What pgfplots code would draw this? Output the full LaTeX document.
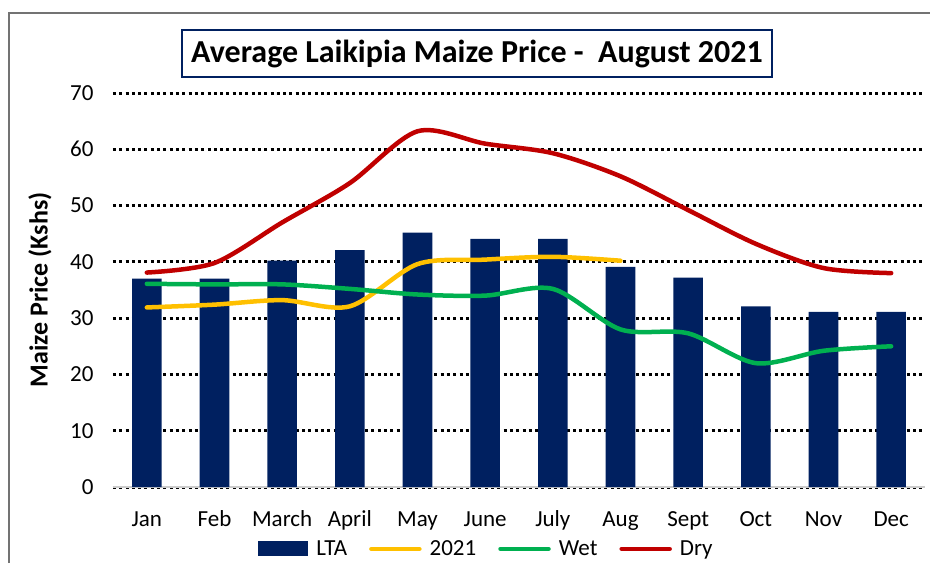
\documentclass[border=0pt]{standalone}
\usepackage{pgfplots}
\pgfplotsset{compat=1.18}
\usepackage{fontspec}
\setmainfont{Carlito}
\definecolor{navy}{HTML}{002060}
\definecolor{gold}{HTML}{FFC000}
\definecolor{wetgreen}{HTML}{00B050}
\definecolor{dryred}{HTML}{C00000}
\begin{document}
\begin{tikzpicture}
\useasboundingbox (0,0) rectangle (930pt,563pt);
\draw[black!55, line width=1.2pt] (9pt,0pt) -- (9pt,550pt) -- (930pt,550pt);
\node[draw=navy, line width=1.5pt, minimum width=590pt, minimum height=47pt, inner sep=0pt,
      font=\fontsize{32}{36}\selectfont\bfseries] at (477pt,509.5pt)
      {Average Laikipia Maize Price -\ \ August 2021};
\begin{axis}[
  scale only axis,
  width=812pt, height=394pt,
  at={(113pt,76pt)}, anchor=south west,
  xmin=-0.5, xmax=11.5, ymin=0, ymax=70,
  xtick={0,...,11},
  xticklabels={Jan,Feb,March,April,May,June,July,Aug,Sept,Oct,Nov,Dec},
  ytick={0,10,...,70},
  ymajorgrids,
  major grid style={black, line width=3pt, dash pattern=on 3pt off 3.3pt},
  major tick length=0pt,
  separate axis lines,
  axis x line*=bottom, axis y line*=left,
  x axis line style={black!20, line width=1.5pt, -},
  y axis line style={draw=none, -},
  /pgf/number format/assume math mode=true,
  tick label style={font=\fontsize{23}{27}\selectfont},
  yticklabel style={anchor=east, xshift=-16pt},
  xticklabel style={anchor=base, yshift=-39pt},
  ylabel={\bfseries Maize Price (Kshs)},
  ylabel style={at={(axis description cs:-0.09,0.5)}, anchor=center, font=\fontsize{26}{30}\selectfont},
  legend style={at={(axis description cs:0.46,-0.157)}, anchor=center, draw=none, fill=none,
    legend columns=4, font=\fontsize{23}{27}\selectfont,
    /tikz/every odd column/.append style={column sep=6pt},
    /tikz/every even column/.append style={column sep=20pt}},
  legend cell align=left,
]
\addplot[ybar, bar width=29.6pt, fill=navy, draw=none,
  legend image code/.code={\fill[navy] (0pt,-7pt) rectangle (50pt,8pt);}]
  coordinates {(0,37) (1,37) (2,40.2) (3,42.1) (4,45.2) (5,44.1) (6,44.1) (7,39.1) (8,37.2) (9,32.1) (10,31.1) (11,31.1)};
\addlegendentry{LTA}
\addplot[gold, line width=4.5pt, line cap=round, smooth, tension=0.5,
  legend image code/.code={\draw[gold, line width=4.5pt, line cap=round] (2pt,0pt) -- (50pt,0pt);}]
  coordinates {(0,31.9) (1,32.4) (2,33.2) (3,32.1) (4,39.6) (5,40.4) (6,40.9) (7,40.2)};
\addlegendentry{2021}
\addplot[wetgreen, line width=4.5pt, line cap=round, smooth, tension=0.5,
  legend image code/.code={\draw[wetgreen, line width=4.5pt, line cap=round] (2pt,0pt) -- (50pt,0pt);}]
  coordinates {(0,36.1) (1,36) (2,36) (3,35.2) (4,34.2) (5,34) (6,35.2) (7,28) (8,27.3) (9,22) (10,24.2) (11,25)};
\addlegendentry{Wet}
\addplot[dryred, line width=4.5pt, line cap=round, smooth, tension=0.5,
  legend image code/.code={\draw[dryred, line width=4.5pt, line cap=round] (2pt,0pt) -- (50pt,0pt);}]
  coordinates {(0,38.1) (1,39.8) (2,47) (3,54) (4,63.2) (5,61) (6,59.3) (7,55.2) (8,49.2) (9,43.2) (10,38.9) (11,38)};
\addlegendentry{Dry}
\end{axis}
\end{tikzpicture}
\end{document}
